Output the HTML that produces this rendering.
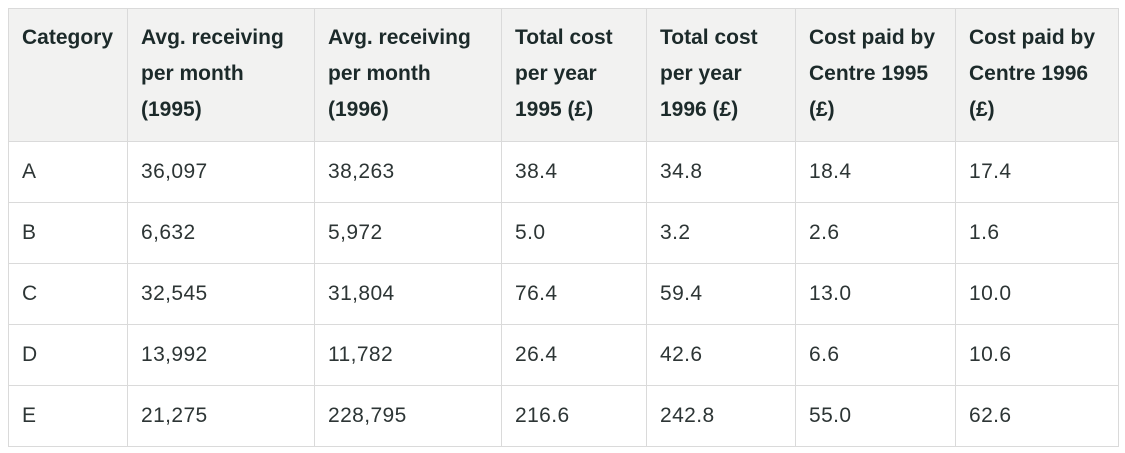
<!DOCTYPE html>
<html>
<head>
<meta charset="utf-8">
<style>
html,body{margin:0;padding:0;background:#fff;}
body{width:1125px;height:453px;overflow:hidden;position:relative;font-family:"Liberation Sans",Arial,sans-serif;}
table{position:absolute;left:8px;top:8px;border-collapse:collapse;table-layout:fixed;width:1110px;}
td,th{border:1px solid #dadada;padding:0 0 0 13px;text-align:left;box-sizing:border-box;}
th{background:#f2f2f1;color:#1c2a2a;font-weight:bold;font-size:21px;line-height:36px;height:133px;vertical-align:top;padding-top:1px;letter-spacing:0px;}
th div{padding-top:10px;}
td{height:61px;font-size:21px;color:#2d3535;vertical-align:middle;letter-spacing:0.4px;padding-top:0px;}
</style>
</head>
<body>
<table>
<colgroup>
<col style="width:119px">
<col style="width:187px">
<col style="width:187px">
<col style="width:145px">
<col style="width:149px">
<col style="width:160px">
<col style="width:163px">
</colgroup>
<tr>
<th><div>Category</div></th>
<th><div>Avg. receiving<br>per month<br>(1995)</div></th>
<th><div>Avg. receiving<br>per month<br>(1996)</div></th>
<th><div>Total cost<br>per year<br>1995 (£)</div></th>
<th><div>Total cost<br>per year<br>1996 (£)</div></th>
<th><div>Cost paid by<br>Centre 1995<br>(£)</div></th>
<th><div>Cost paid by<br>Centre 1996<br>(£)</div></th>
</tr>
<tr><td>A</td><td>36,097</td><td>38,263</td><td>38.4</td><td>34.8</td><td>18.4</td><td>17.4</td></tr>
<tr><td>B</td><td>6,632</td><td>5,972</td><td>5.0</td><td>3.2</td><td>2.6</td><td>1.6</td></tr>
<tr><td>C</td><td>32,545</td><td>31,804</td><td>76.4</td><td>59.4</td><td>13.0</td><td>10.0</td></tr>
<tr><td>D</td><td>13,992</td><td>11,782</td><td>26.4</td><td>42.6</td><td>6.6</td><td>10.6</td></tr>
<tr><td>E</td><td>21,275</td><td>228,795</td><td>216.6</td><td>242.8</td><td>55.0</td><td>62.6</td></tr>
</table>
</body>
</html>
